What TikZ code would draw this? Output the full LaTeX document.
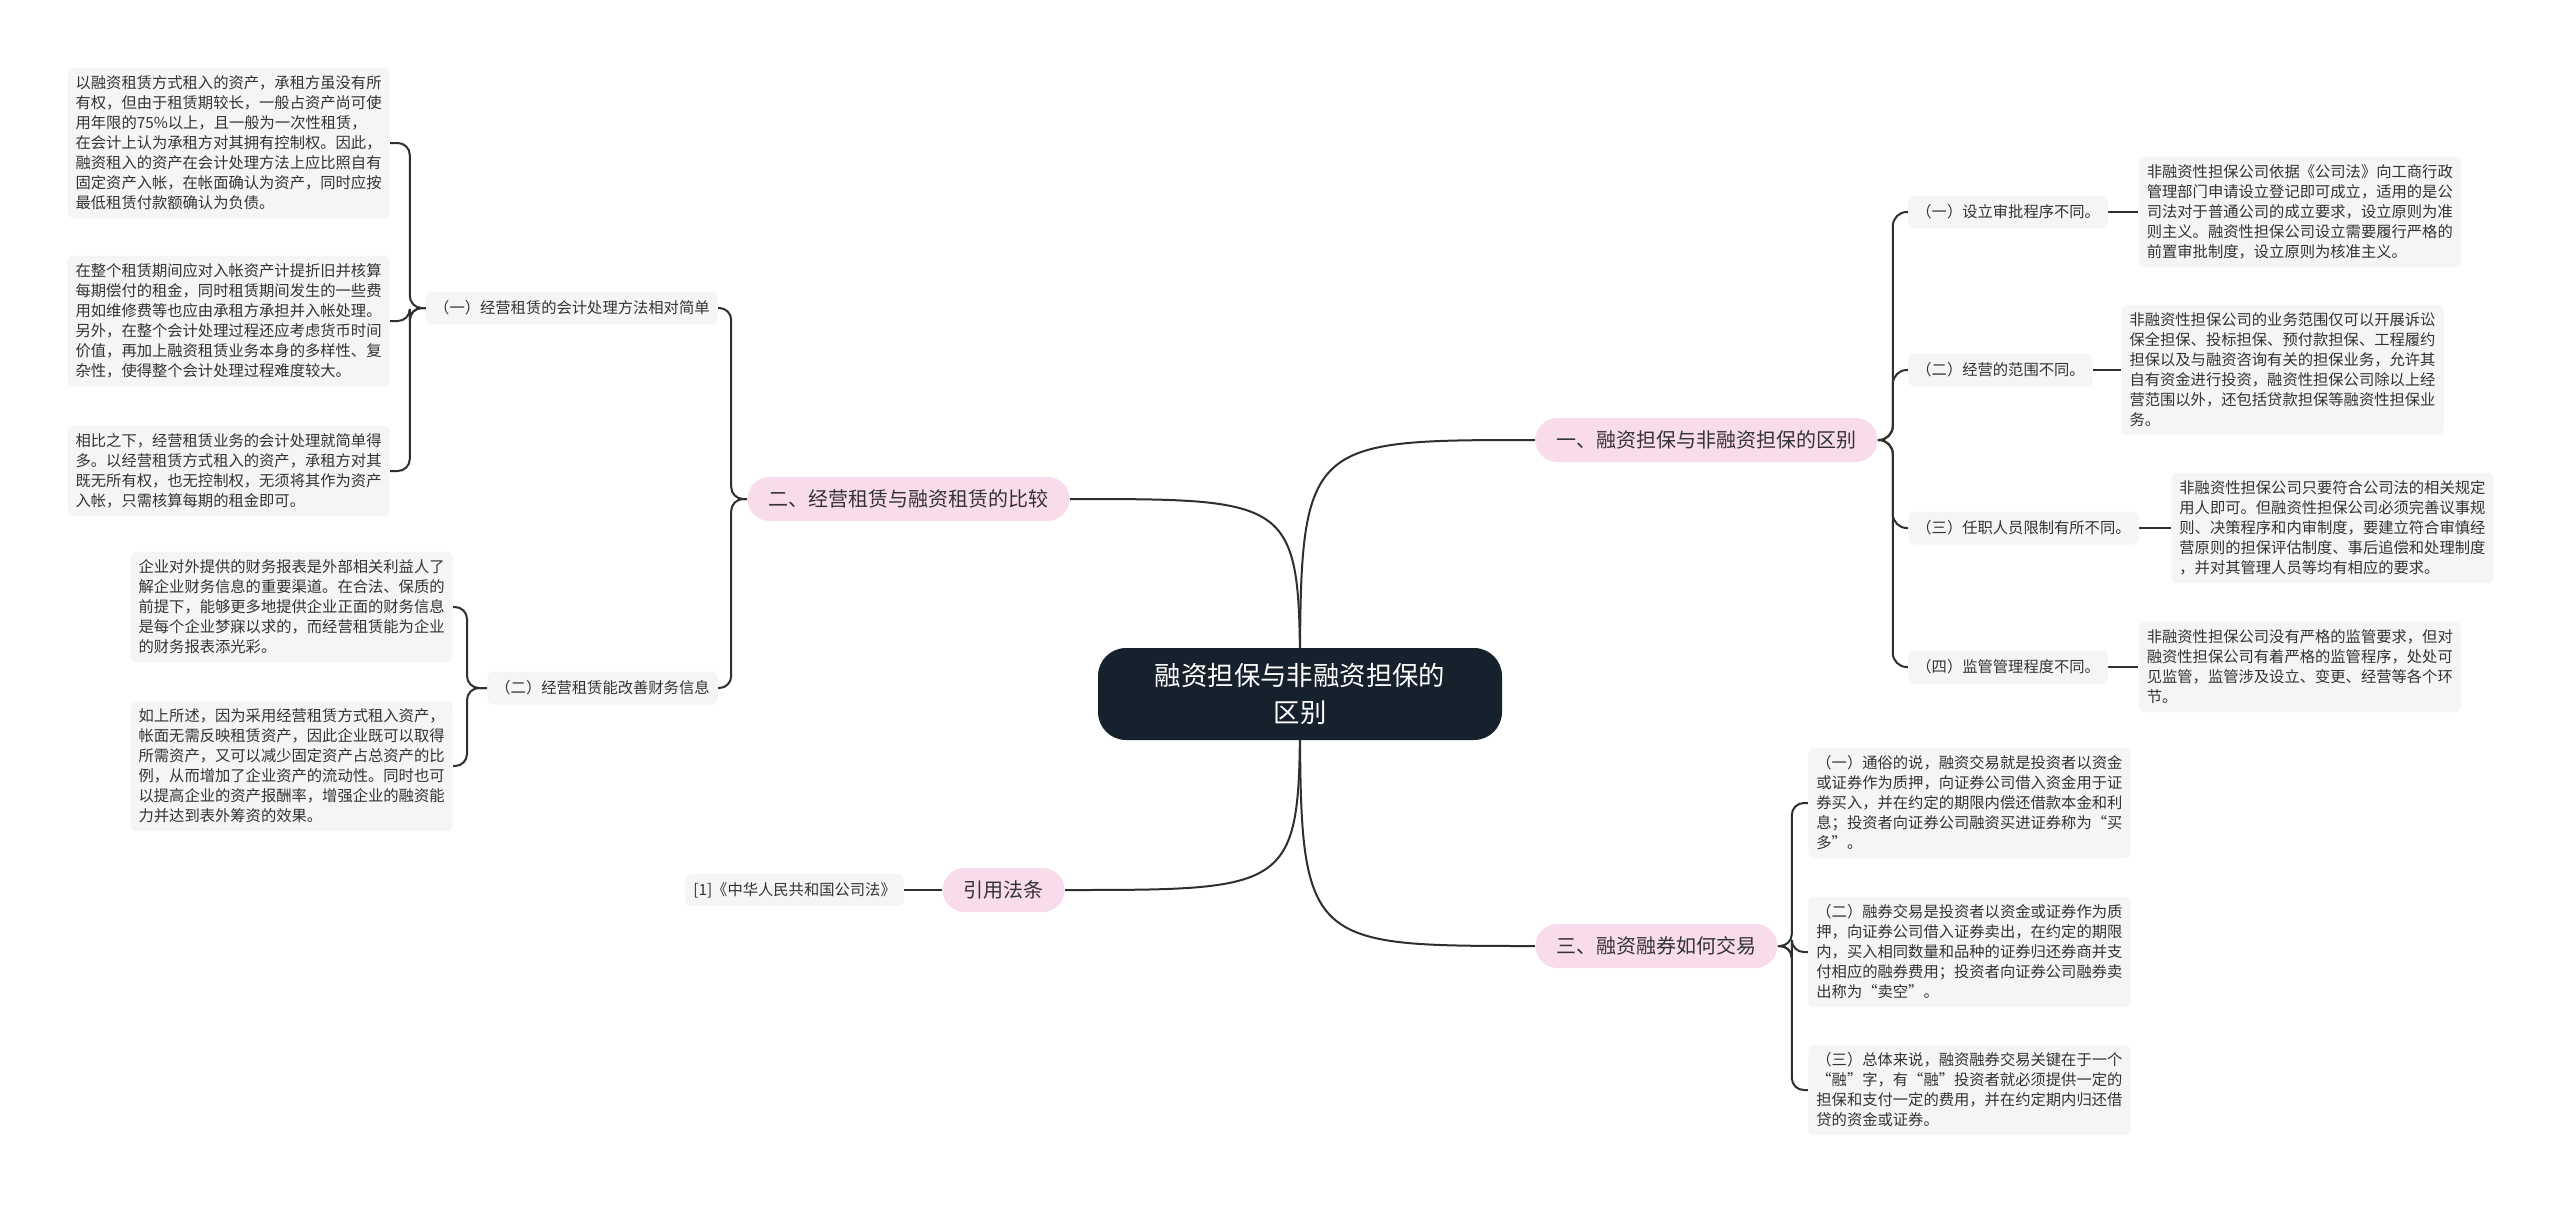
\documentclass[tikz,border=0pt]{standalone}
\usepackage{fontspec}
\setmainfont{Noto Sans CJK SC}
\usetikzlibrary{positioning,backgrounds}
\definecolor{rootcol}{HTML}{16212E}
\definecolor{branchcol}{HTML}{F9DCEB}
\definecolor{leafcol}{HTML}{F5F5F5}
\definecolor{linecol}{HTML}{2F2F2F}
\definecolor{txtcol}{HTML}{333333}
\begin{document}
\begin{tikzpicture}
      [x=0.5pt, y=-0.5pt,
       root node/.style={rectangle, rounded corners=14pt, fill=rootcol, text=white, minimum width=202pt, minimum height=46pt, align=center, font=\fontsize{13.2pt}{18.8pt}\selectfont},
       branch node/.style={rectangle, rounded corners=11pt, fill=branchcol, text=txtcol, minimum height=22pt, inner xsep=10.5pt, inner ysep=0pt, font=\fontsize{10pt}{12pt}\selectfont},
       sub node/.style={rectangle, rounded corners=3pt, fill=leafcol, text=txtcol, minimum height=16.5pt, inner xsep=4pt, inner ysep=0pt, font=\fontsize{7.65pt}{10pt}\selectfont},
       text node/.style={rectangle, rounded corners=3pt, fill=leafcol, text=txtcol, align=left, inner sep=4pt, font=\fontsize{7.65pt}{10pt}\selectfont},
       link/.style={draw=linecol, line width=1pt}]
      \useasboundingbox (0,0) rectangle (2560,1205);

      \node[root node] (root) at (1300,694) {融资担保与非融资担保的\\区别};

      \node[branch node, anchor=west] (guar) at (1535,440) {一、融资担保与非融资担保的区别};
      \node[branch node, anchor=east] (lease) at (1070,499) {二、经营租赁与融资租赁的比较};
      \node[branch node, anchor=west] (trade) at (1535,946) {三、融资融券如何交易};
      \node[branch node, anchor=east] (law) at (1065,890) {引用法条};

      % right side, first branch
      \node[sub node, anchor=west] (approve) at (1908,212) {（一）设立审批程序不同。};
      \node[sub node, anchor=west] (range) at (1908,370) {（二）经营的范围不同。};
      \node[sub node, anchor=west] (staff) at (1908,528) {（三）任职人员限制有所不同。};
      \node[sub node, anchor=west] (superv) at (1908,667) {（四）监管管理程度不同。};

      \node[text node, right=15pt of approve] (approvetxt) {非融资性担保公司依据《公司法》向工商行政\\管理部门申请设立登记即可成立，适用的是公\\司法对于普通公司的成立要求，设立原则为准\\则主义。融资性担保公司设立需要履行严格的\\前置审批制度，设立原则为核准主义。};
      \node[text node, right=14pt of range] (rangetxt) {非融资性担保公司的业务范围仅可以开展诉讼\\保全担保、投标担保、预付款担保、工程履约\\担保以及与融资咨询有关的担保业务，允许其\\自有资金进行投资，融资性担保公司除以上经\\营范围以外，还包括贷款担保等融资性担保业\\务。};
      \node[text node, right=16pt of staff] (stafftxt) {非融资性担保公司只要符合公司法的相关规定\\用人即可。但融资性担保公司必须完善议事规\\则、决策程序和内审制度，要建立符合审慎经\\营原则的担保评估制度、事后追偿和处理制度\\，并对其管理人员等均有相应的要求。};
      \node[text node, right=15pt of superv] (supervtxt) {非融资性担保公司没有严格的监管要求，但对\\融资性担保公司有着严格的监管程序，处处可\\见监管，监管涉及设立、变更、经营等各个环\\节。};

      % right side, third branch
      \node[text node, anchor=west] (margin) at (1808,803) {（一）通俗的说，融资交易就是投资者以资金\\或证券作为质押，向证券公司借入资金用于证\\券买入，并在约定的期限内偿还借款本金和利\\息；投资者向证券公司融资买进证券称为“买\\多”。};
      \node[text node, anchor=west] (short) at (1808,952) {（二）融券交易是投资者以资金或证券作为质\\押，向证券公司借入证券卖出，在约定的期限\\内，买入相同数量和品种的证券归还券商并支\\付相应的融券费用；投资者向证券公司融券卖\\出称为“卖空”。};
      \node[text node, anchor=west] (sumup) at (1808,1090) {（三）总体来说，融资融券交易关键在于一个\\“融”字，有“融”投资者就必须提供一定的\\担保和支付一定的费用，并在约定期内归还借\\贷的资金或证券。};

      % left side
      \node[sub node, anchor=east] (account) at (718,308) {（一）经营租赁的会计处理方法相对简单};
      \node[sub node, anchor=east] (report) at (718,688) {（二）经营租赁能改善财务信息};

      \node[text node, anchor=east] (finrule) at (390,143) {以融资租赁方式租入的资产，承租方虽没有所\\有权，但由于租赁期较长，一般占资产尚可使\\用年限的75\%以上，且一般为一次性租赁，\\在会计上认为承租方对其拥有控制权。因此，\\融资租入的资产在会计处理方法上应比照自有\\固定资产入帐，在帐面确认为资产，同时应按\\最低租赁付款额确认为负债。};
      \node[text node, anchor=east] (fincost) at (390,321) {在整个租赁期间应对入帐资产计提折旧并核算\\每期偿付的租金，同时租赁期间发生的一些费\\用如维修费等也应由承租方承担并入帐处理。\\另外，在整个会计处理过程还应考虑货币时间\\价值，再加上融资租赁业务本身的多样性、复\\杂性，使得整个会计处理过程难度较大。};
      \node[text node, anchor=east] (opsimple) at (390,471) {相比之下，经营租赁业务的会计处理就简单得\\多。以经营租赁方式租入的资产，承租方对其\\既无所有权，也无控制权，无须将其作为资产\\入帐，只需核算每期的租金即可。};
      \node[text node, anchor=east] (reportone) at (453,607) {企业对外提供的财务报表是外部相关利益人了\\解企业财务信息的重要渠道。在合法、保质的\\前提下，能够更多地提供企业正面的财务信息\\是每个企业梦寐以求的，而经营租赁能为企业\\的财务报表添光彩。};
      \node[text node, anchor=east] (reporttwo) at (453,766) {如上所述，因为采用经营租赁方式租入资产，\\帐面无需反映租赁资产，因此企业既可以取得\\所需资产，又可以减少固定资产占总资产的比\\例，从而增加了企业资产的流动性。同时也可\\以提高企业的资产报酬率，增强企业的融资能\\力并达到表外筹资的效果。};

      \node[text node, left=19pt of law] (lawtxt) {[1]《中华人民共和国公司法》};

      \begin{scope}[on background layer]
        \fill[white] (0,0) rectangle (2560,1205);
        \draw[link] (root.center) .. controls (root.center |- guar.west) .. (guar.west);
        \draw[link] (root.center) .. controls (root.center |- lease.east) .. (lease.east);
        \draw[link] (root.center) .. controls (root.center |- trade.west) .. (trade.west);
        \draw[link] (root.center) .. controls (root.center |- law.east) .. (law.east);

        \draw[link, rounded corners=7pt] (guar.east) -- ++(15,0) |- (approve.west);
        \draw[link, rounded corners=7pt] (guar.east) -- ++(15,0) |- (range.west);
        \draw[link, rounded corners=7pt] (guar.east) -- ++(15,0) |- (staff.west);
        \draw[link, rounded corners=7pt] (guar.east) -- ++(15,0) |- (superv.west);
        \draw[link] (approve) -- (approvetxt);
        \draw[link] (range) -- (rangetxt);
        \draw[link] (staff) -- (stafftxt);
        \draw[link] (superv) -- (supervtxt);

        \draw[link, rounded corners=6pt] (trade.east) -- ++(14,0) |- (margin.west);
        \draw[link, rounded corners=6pt] (trade.east) -- ++(14,0) |- (short.west);
        \draw[link, rounded corners=6pt] (trade.east) -- ++(14,0) |- (sumup.west);

        \draw[link, rounded corners=6pt] (lease.west) -- ++(-16,0) |- (account.east);
        \draw[link, rounded corners=6pt] (lease.west) -- ++(-16,0) |- (report.east);
        \draw[link, rounded corners=6pt] (account.west) -- ++(-16,0) |- (finrule.east);
        \draw[link, rounded corners=6pt] (account.west) -- ++(-16,0) |- (fincost.east);
        \draw[link, rounded corners=6pt] (account.west) -- ++(-16,0) |- (opsimple.east);
        \draw[link, rounded corners=6pt] (report.west) -- ++(-20,0) |- (reportone.east);
        \draw[link, rounded corners=6pt] (report.west) -- ++(-20,0) |- (reporttwo.east);

        \draw[link] (law) -- (lawtxt);
      \end{scope}
   \end{tikzpicture}
\end{document}
